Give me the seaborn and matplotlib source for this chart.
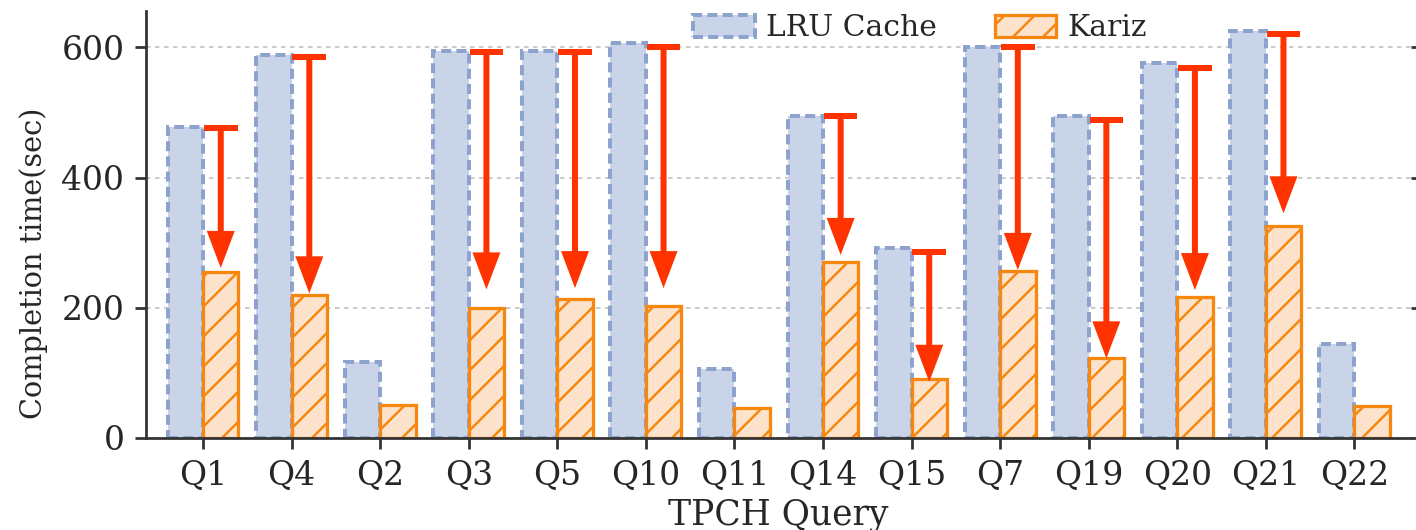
import matplotlib
matplotlib.use("Agg")
import matplotlib.pyplot as plt
import seaborn as sns
import pandas as pd

# Completion times (seconds) per TPC-H query
queries = ["Q1", "Q4", "Q2", "Q3", "Q5", "Q10", "Q11", "Q14", "Q15",
           "Q7", "Q19", "Q20", "Q21", "Q22"]
lru_cache = [478, 589, 116, 595, 595, 607, 105, 495, 291, 600, 494, 576, 625, 144]
kariz = [255, 219, 51, 200, 214, 203, 46, 270, 91, 256, 122, 217, 325, 49]
systems = ["LRU Cache", "Kariz"]

# Improvement arrows: start (cap) and tip heights for selected queries
arrow_queries = ["Q1", "Q4", "Q3", "Q5", "Q10", "Q14", "Q15", "Q7", "Q19", "Q20", "Q21"]
arrow_from = [476, 586, 593, 593, 600, 495, 285, 600, 489, 568, 621]
arrow_to = [261, 222, 228, 230, 230, 281, 86, 258, 122, 227, 345]

DPI = 180
sns.set_theme(style="ticks")
plt.rcParams["font.family"] = ["DejaVu Serif"]
plt.rcParams["hatch.linewidth"] = 1.0

df = pd.DataFrame({
    "query": queries * 2,
    "time": lru_cache + kariz,
    "system": [systems[0]] * len(queries) + [systems[1]] * len(queries),
})

fig = plt.figure(figsize=(1416 / DPI, 530 / DPI), dpi=DPI)
ax = fig.add_axes([146 / 1416, 1 - 437.7 / 530, (1411 - 146) / 1416, (437.7 - 11) / 530])

sns.barplot(data=df, x="query", y="time", hue="system", order=queries,
            hue_order=systems, palette=["#C9D4E8", "#FDE3CC"], width=0.8,
            saturation=1, legend=False, ax=ax)

lru_bars, kariz_bars = ax.containers[0], ax.containers[1]
for p in lru_bars:
    p.set_edgecolor("#8DA2CD")
    p.set_linewidth(1.6)
    p.set_linestyle((0, (2.5, 1.3)))
for p in kariz_bars:
    p.set_edgecolor("#F7870E")
    p.set_linewidth(1.3)
    p.set_hatch("//")

# Red arrows from the LRU time down to the Kariz time
arrow_color = "#FF3300"
cap_half = 0.19
for q, y0, y1 in zip(arrow_queries, arrow_from, arrow_to):
    x = queries.index(q) + 0.2
    ax.annotate("", xy=(x, y1), xytext=(x, y0),
                arrowprops=dict(width=2.4, headwidth=11.2, headlength=14.8,
                                shrink=0, fc=arrow_color, ec=arrow_color, lw=0),
                zorder=5)
    ax.hlines(y0, x - cap_half, x + cap_half, colors=arrow_color, lw=2.4, zorder=5)

ax.set_xlim(-0.644, 13.64)
ax.set_ylim(0, 656)
ax.set_yticks([0, 200, 400, 600])

ax.set_axisbelow(True)
ax.yaxis.grid(True, linestyle=(0, (3, 3)), color="#bbbbbb", lw=0.6)

for side in ["top", "right"]:
    ax.spines[side].set_visible(False)
for side in ["left", "bottom"]:
    ax.spines[side].set_color("#333333")
    ax.spines[side].set_linewidth(1.1)

ax.tick_params(axis="both", colors="#333333", labelcolor="#262626",
               length=4.4, width=1.1, labelsize=13.2, pad=4.2)
ax.tick_params(axis="y", right=True)

ax.set_xlabel("TPCH Query", fontsize=13.8, color="#262626", labelpad=2.6)
ax.set_ylabel("Completion time(sec)", fontsize=11.5, color="#262626")
ax.yaxis.set_label_coords(-0.0775, 0.408)

ax.legend([lru_bars[0], kariz_bars[0]], systems, ncol=2, frameon=False,
          fontsize=11.9, loc="upper left", bbox_to_anchor=(666 / 1416, 1.0236),
          bbox_transform=fig.transFigure, handlelength=2.08, handleheight=0.75,
          handletextpad=0.37, columnspacing=1.95, borderpad=0.4)

fig.savefig("out.png", dpi=DPI)
